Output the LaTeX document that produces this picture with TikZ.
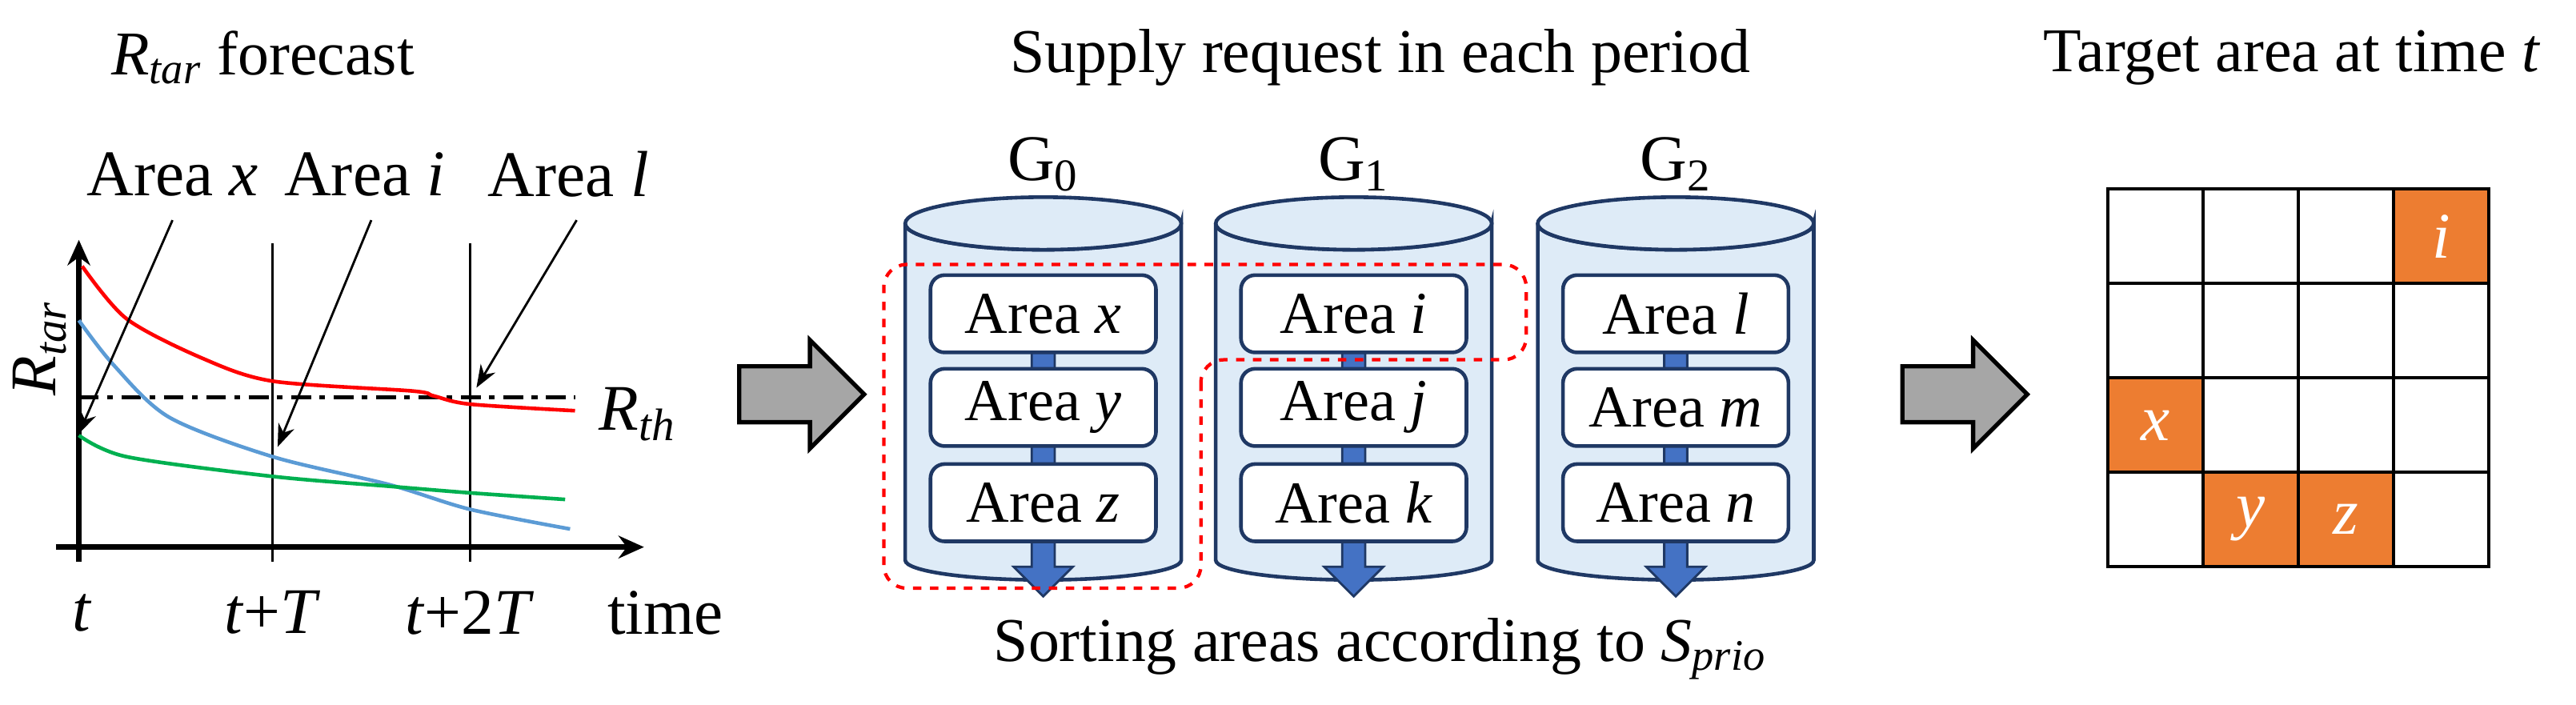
\documentclass[tikz,border=0pt]{standalone}
\usepackage{fontspec}
\setmainfont{Liberation Serif}
\usetikzlibrary{arrows.meta,calc}
\definecolor{navy}{HTML}{1F3864}
\definecolor{cylfill}{HTML}{DEEBF7}
\definecolor{arrowblue}{HTML}{4472C4}
\definecolor{cellorange}{HTML}{ED7D31}
\definecolor{curvered}{HTML}{FF0000}
\definecolor{curveblue}{HTML}{5B9BD5}
\definecolor{curvegreen}{HTML}{00B050}
\tikzstyle{title} = [font=\fontsize{22}{24}\selectfont]
\tikzstyle{label} = [font=\fontsize{23}{25}\selectfont, inner sep=1pt]
\tikzstyle{areabox} = [rectangle, rounded corners=5pt, draw=navy, line width=1.3pt, fill=white, minimum width=2.8cm, minimum height=0.96cm, font=\fontsize{21}{23}\selectfont]
\tikzstyle{cyl} = [draw=navy, line width=1.3pt, fill=cylfill]
\tikzstyle{sortarrow} = [draw=navy, line width=0.8pt, fill=arrowblue]
\tikzstyle{blockarrow} = [draw=black, line width=1.5pt, fill=black!35]
\tikzstyle{cell} = [draw=black, line width=1.2pt]
\tikzstyle{pointer} = [thick,-{Stealth[length=8pt,width=6pt]}]
\newcommand{\Rname}[1]{\textit{R}\textsubscript{\textit{#1}}}
\newcommand{\Sname}[1]{\textit{S}\textsubscript{\textit{#1}}}

\begin{document}
\begin{tikzpicture}[x=0.0204cm, y=-0.0204cm]
    \useasboundingbox (0,0) rectangle (1568,429);

    % forecast chart
    \node (charttitle) [title] at (160,35) {\Rname{tar} forecast};
    \draw [line width=2pt, -{Stealth[length=9pt,width=8pt]}] (48,342) -- (48,146) coordinate (yend);
    \draw [line width=2pt, -{Stealth[length=9pt,width=8pt]}] (34,333) -- (392,333) coordinate (xend);
    \draw [thick] (166,148) -- (166,342);
    \draw [thick] (286,148) -- (286,342);
    \draw [line width=1.5pt, dash pattern=on 7pt off 3pt on 2pt off 3pt] (48,242) -- (350,242);
    \draw [curvered, line width=1.3pt] plot[smooth] coordinates {(50,162) (77,194) (123,218) (166,232) (251,238) (264,241) (286,246) (350,250)};
    \draw [curveblue, line width=1.3pt] plot[smooth] coordinates {(48,195) (69,222) (103,254) (166,278) (237,295) (286,310) (347,322)};
    \draw [curvegreen, line width=1.3pt] plot[smooth] coordinates {(48,265) (77,278) (166,290) (237,296) (286,300) (344,304)};
    \node (rth) [label] at (388,252) {\Rname{th}};
    \node (rtar) [label, rotate=90] at (24,212) {\Rname{tar}};
    \node (tickt) [label] at (50,373) {\textit{t}};
    \node (tickt1) [label] at (166,373) {\textit{t}+\textit{T}};
    \node (tickt2) [label] at (286,373) {\textit{t}+2\textit{T}};
    \node (timelabel) [label] at (405,373) {time};

    \node (labelx) [label] at (105,106) {Area \textit{x}};
    \node (labeli) [label] at (222,106) {Area \textit{i}};
    \node (labell) [label] at (346,106) {Area \textit{l}};
    \coordinate (hitx) at (48,264);
    \coordinate (hiti) at (169,272);
    \coordinate (hitl) at (290,236);
    \draw [pointer] (105,134) -- (hitx);
    \draw [pointer] (226,134) -- (hiti);
    \draw [pointer] (351,134) -- (hitl);

    % block arrows
    \draw [blockarrow] (450,223) -- (493,223) -- (493,207) -- (526,240) -- (493,273) -- (493,257) -- (450,257) -- cycle;
    \draw [blockarrow] (1158,223) -- (1201,223) -- (1201,207) -- (1234,240) -- (1201,273) -- (1201,257) -- (1158,257) -- cycle;

    % groups
    \node (supplytitle) [title] at (840,35) {Supply request in each period};
    \foreach \cx/\g in {635/0, 824/1, 1020/2} {
        \draw [cyl] (\cx-84,136) -- (\cx-84,341) arc[start angle=180, end angle=360, x radius=84, y radius=-12] -- (\cx+84,136) arc[start angle=0, end angle=180, x radius=84, y radius=16];
        \draw [cyl] (\cx,136) ellipse[x radius=84, y radius=16];
        \draw [sortarrow] (\cx-7,200) -- (\cx-7,345) -- (\cx-18,345) -- (\cx,363) -- (\cx+18,345) -- (\cx+7,345) -- (\cx+7,200) -- cycle;
        \node (g\g) [label] at (\cx,100) {G\textsubscript{\g}};
    }
    \node (areax) [areabox] at (635,191) {Area \textit{x}};
    \node (areay) [areabox] at (635,248) {Area \textit{y}};
    \node (areaz) [areabox] at (635,306) {Area \textit{z}};
    \node (areai) [areabox] at (824,191) {Area \textit{i}};
    \node (areaj) [areabox] at (824,248) {Area \textit{j}};
    \node (areak) [areabox] at (824,306) {Area \textit{k}};
    \node (areal) [areabox] at (1020,191) {Area \textit{l}};
    \node (aream) [areabox] at (1020,248) {Area \textit{m}};
    \node (arean) [areabox] at (1020,306) {Area \textit{n}};
    \draw [curvered, line width=1.2pt, dashed, rounded corners=8pt] (731,219) -- (731,358) -- (538,358) -- (538,161) -- (929,161) -- (929,219) -- cycle;
    \node (sorting) [title] at (840,395) {Sorting areas according to \Sname{prio}};

    % target grid
    \node (targettitle) [title] at (1395,35) {Target area at time \textit{t}};
    \foreach \c/\r in {3/0, 0/2, 1/3, 2/3}
        \fill [cellorange] (1283+58*\c,115+57.5*\r) rectangle ++(58,57.5);
    \foreach \c in {0,...,3}
        \foreach \r in {0,...,3}
            \draw [cell] (1283+58*\c,115+57.5*\r) rectangle ++(58,57.5);
    \node (celli) [label, text=white] at (1486,144) {\textit{i}};
    \node (cellx) [label, text=white] at (1312,259) {\textit{x}};
    \node (celly) [label, text=white] at (1370,316) {\textit{y}};
    \node (cellz) [label, text=white] at (1428,316) {\textit{z}};
\end{tikzpicture}
\end{document}
